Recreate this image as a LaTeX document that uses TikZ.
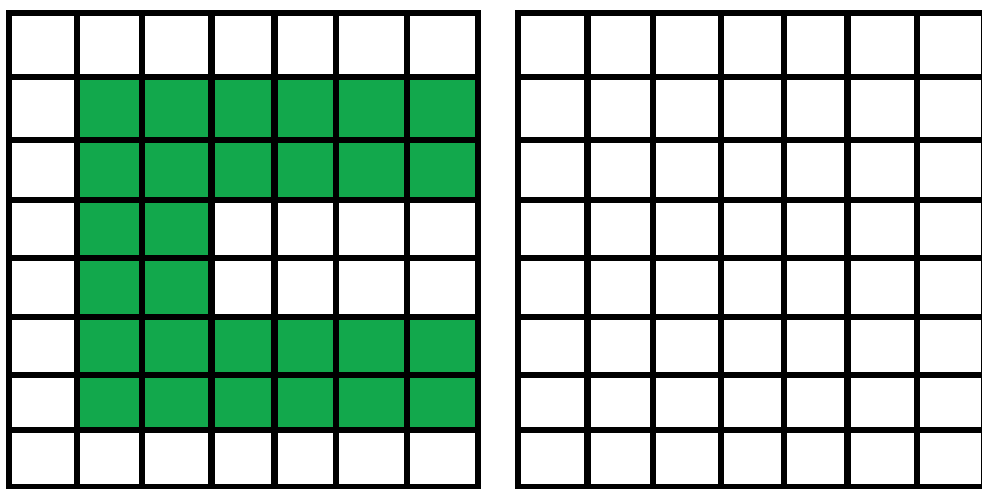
\documentclass[tikz,border=0pt]{standalone}
\definecolor{cellgreen}{RGB}{18,168,76}
\tikzset{gridline/.style={line width=4.9pt,black,line cap=rect},
         cellfill/.style={fill=cellgreen}}
\begin{document}
\begin{tikzpicture}[x=0.75pt,y=-0.75pt]
\useasboundingbox (0,0) rectangle (982,489);
\clip (0,0) rectangle (982,489);
\fill[white] (0,0) rectangle (982,489);
% left grid coordinates
\def\LX{{9,77,142,211.5,274.5,336,407,478}}
\def\RX{{518,587.5,653,721,784,847.5,917,984}}
\def\HY{{13,77,140,200,258,317,375,430,487}}
% green cells (row, col) index lists
\foreach \r/\c in {1/1,1/2,1/3,1/4,1/5,1/6,
                   2/1,2/2,2/3,2/4,2/5,2/6,
                   3/1,3/2,
                   4/1,4/2,
                   5/1,5/2,5/3,5/4,5/5,5/6,
                   6/1,6/2,6/3,6/4,6/5,6/6}{
  \pgfmathsetmacro{\xa}{\LX[\c]}
  \pgfmathsetmacro{\xb}{\LX[\c+1]}
  \pgfmathsetmacro{\ya}{\HY[\r]}
  \pgfmathsetmacro{\yb}{\HY[\r+1]}
  \fill[cellfill] (\xa,\ya) rectangle (\xb,\yb);
}
% left grid lines
\foreach \i in {0,...,7}{
  \pgfmathsetmacro{\xx}{\LX[\i]}
  \draw[gridline] (\xx,13) -- (\xx,487);
}
\foreach \j in {0,...,8}{
  \pgfmathsetmacro{\yy}{\HY[\j]}
  \draw[gridline] (9,\yy) -- (478,\yy);
}
% right grid lines
\foreach \i in {0,...,7}{
  \pgfmathsetmacro{\xx}{\RX[\i]}
  \draw[gridline] (\xx,13) -- (\xx,487);
}
\foreach \j in {0,...,8}{
  \pgfmathsetmacro{\yy}{\HY[\j]}
  \draw[gridline] (518,\yy) -- (984,\yy);
}
\end{tikzpicture}
\end{document}
